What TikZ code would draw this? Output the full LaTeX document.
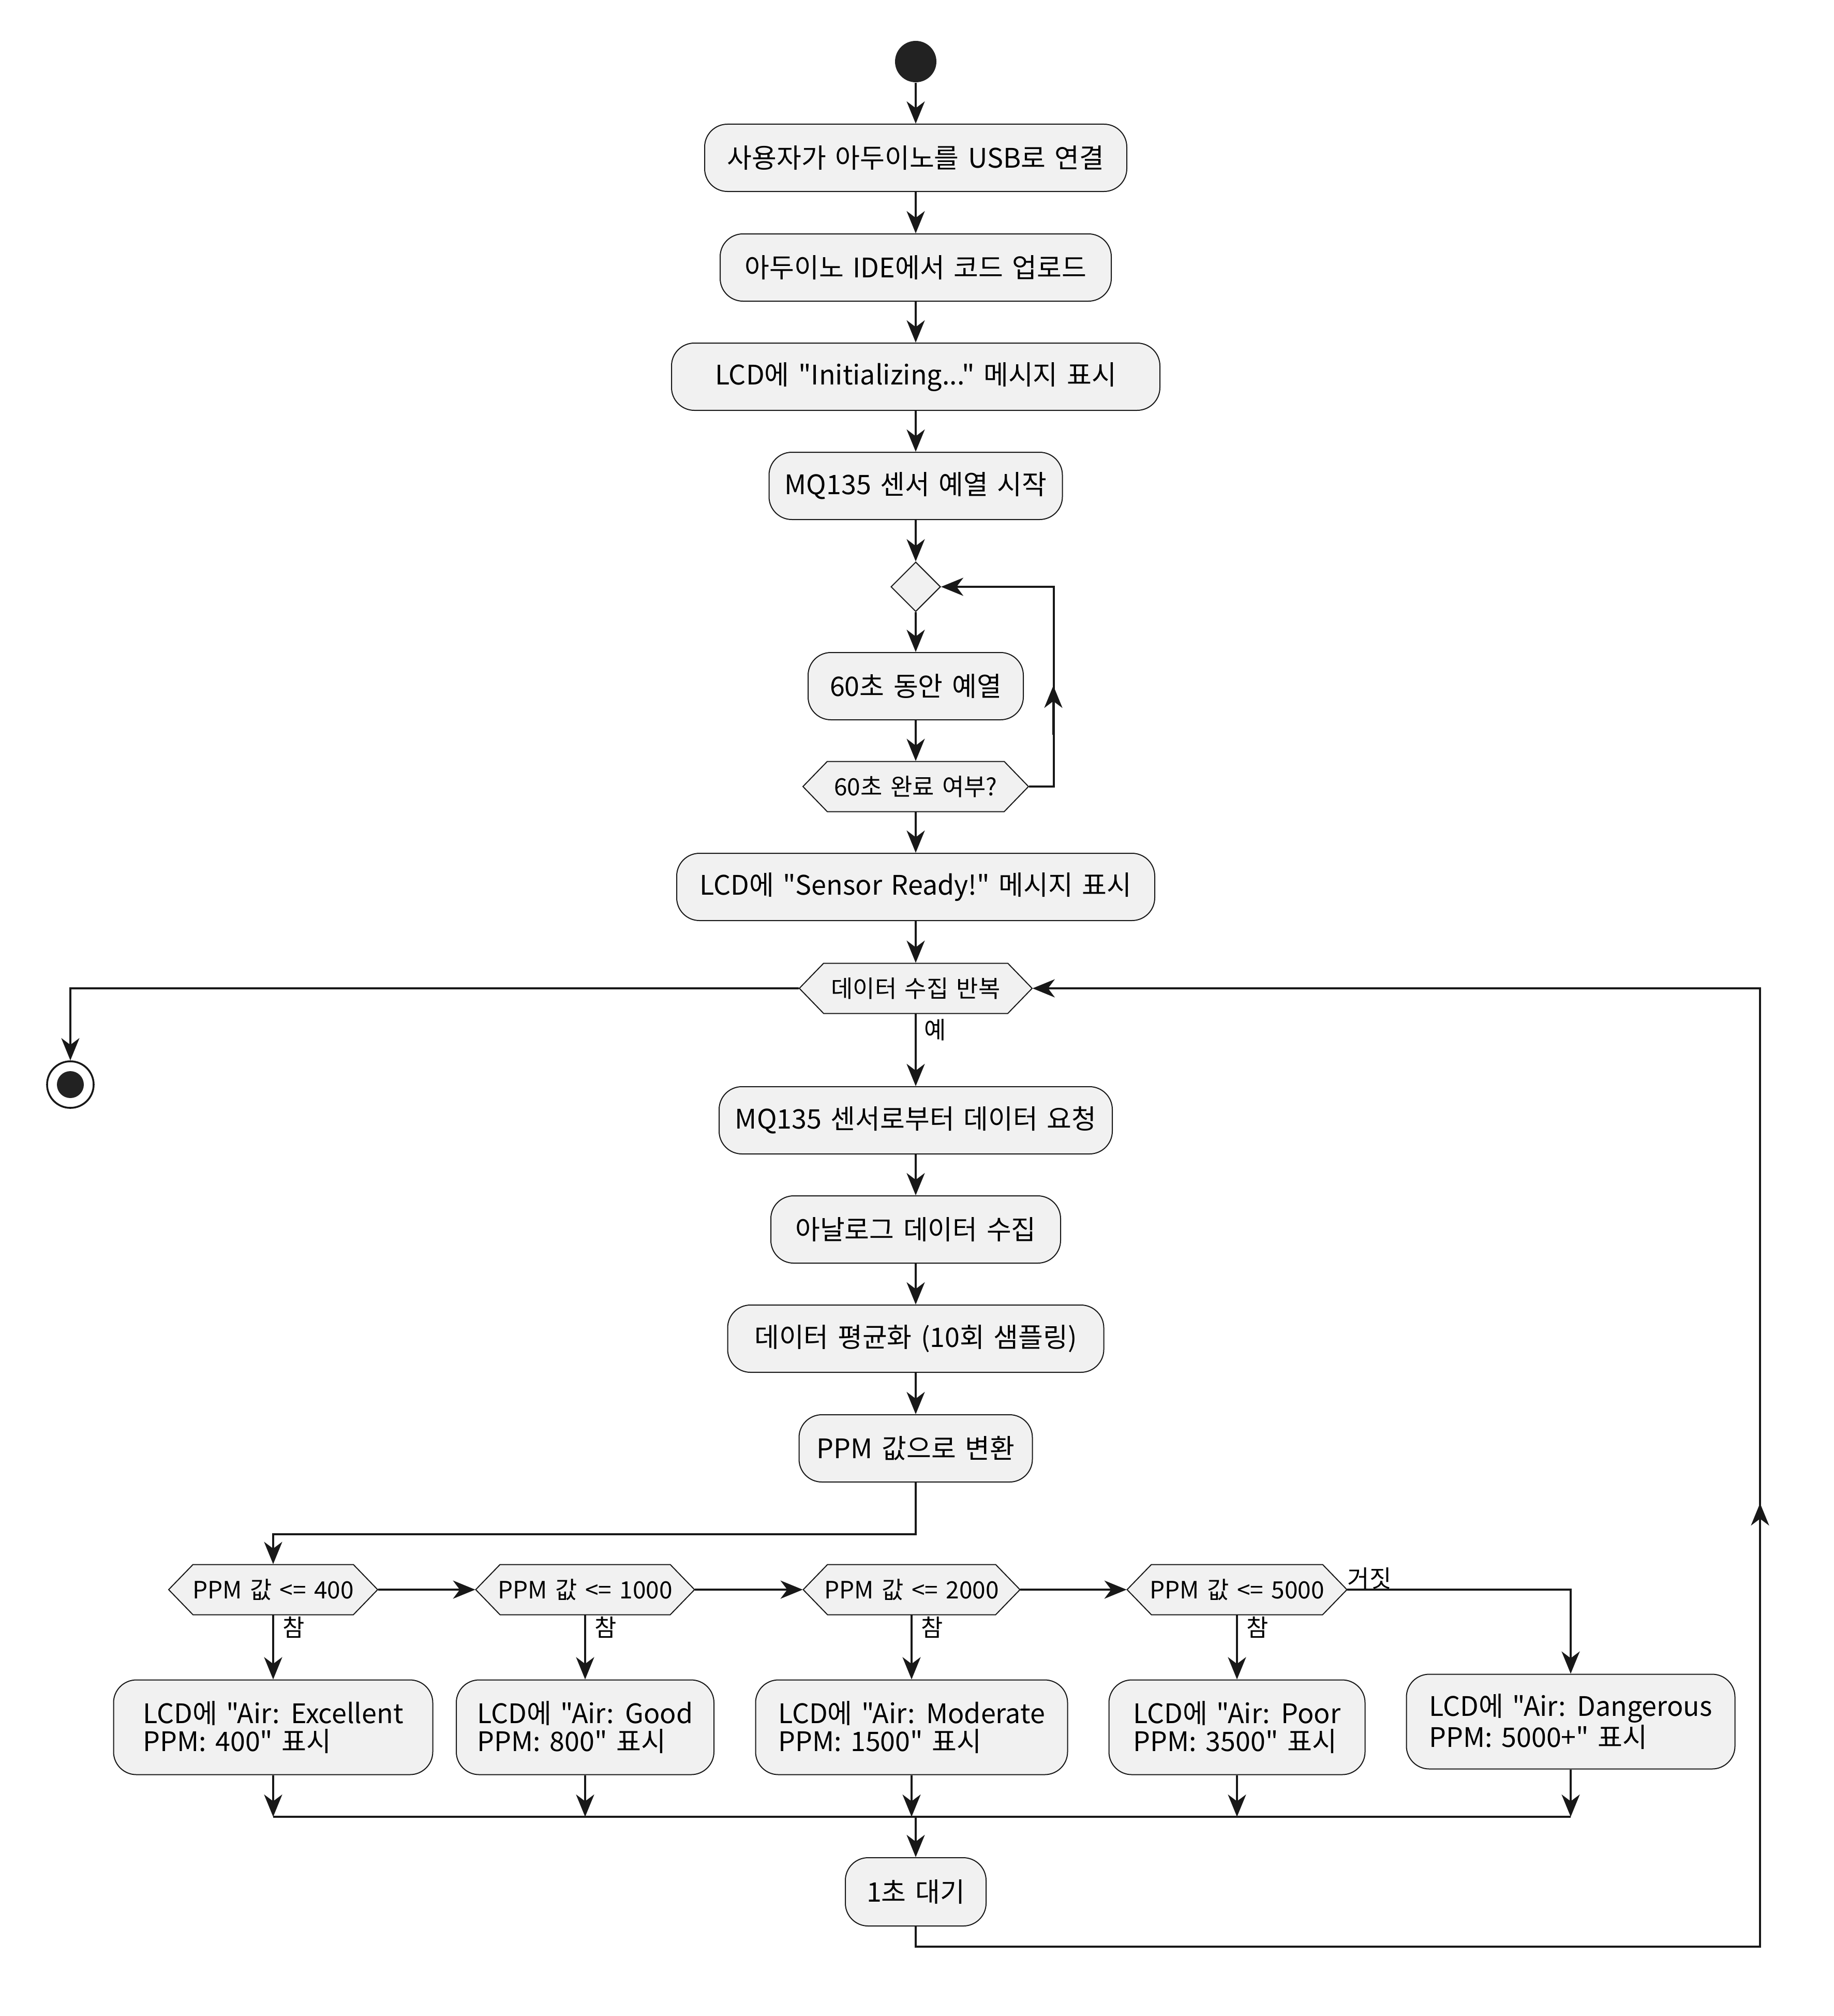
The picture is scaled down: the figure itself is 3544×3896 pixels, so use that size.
\documentclass[tikz,border=0pt]{standalone}
\usepackage{fontspec}
\setmainfont{Noto Sans CJK KR}[Ligatures=TeXOff,WordSpace=1.5]
\usetikzlibrary{arrows.meta,shapes.geometric}
\definecolor{boxfill}{HTML}{F1F1F1}
\definecolor{ink}{HTML}{181818}
\definecolor{dotc}{HTML}{222222}
% name, cx, cy, width px, width pt, text
\newcommand\hexbox[6]{%
  \draw[hexline] ({#2-#4/2},#3) -- ({#2-#4/2+47},{#3-48.5}) -- ({#2+#4/2-47},{#3-48.5}) -- ({#2+#4/2},#3) -- ({#2+#4/2-47},{#3+48.5}) -- ({#2-#4/2+47},{#3+48.5}) -- cycle;
  \node[hextxt, minimum width=#5] (#1) at (#2,#3) {#6};
}
\begin{document}
\begin{tikzpicture}[x=0.25pt,y=-0.25pt,
  act/.style={draw=ink, fill=boxfill, line width=0.5pt, rounded corners=11pt, minimum height=32.5pt, inner sep=0pt, font=\fontsize{13}{13.5}\selectfont, align=center},
  act2/.style={act, minimum height=45.75pt, align=left},
  hextxt/.style={inner sep=0pt, minimum height=24.25pt, font=\fontsize{11.5}{13}\selectfont},
  hexline/.style={draw=ink, fill=boxfill, line width=0.5pt},
  conn/.style={draw=ink, line width=1pt},
  arr/.style={conn, -{Stealth[length=10.75pt,width=8.75pt,inset=3.25pt]}},
  lbl/.style={font=\fontsize{11.5}{13}\selectfont, inner sep=0pt},
]
\useasboundingbox (0,0) rectangle (3544,3896);

\node[circle, fill=dotc, minimum size=20pt, inner sep=0pt] (start) at (1770,119) {};
\node[act, minimum width=204pt] (b1) at (1770,305) {사용자가 아두이노를 USB로 연결};
\node[act, minimum width=189pt] (b2) at (1770,517) {아두이노 IDE에서 코드 업로드};
\node[act, minimum width=236pt] (b3) at (1770,728) {LCD에 "Initializing..." 메시지 표시};
\node[act, minimum width=141.75pt] (b4) at (1770,939) {MQ135 센서 예열 시작};
\node[diamond, draw=ink, fill=boxfill, line width=0.5pt, minimum width=24pt, minimum height=24pt, inner sep=0pt] (dia) at (1770,1134) {};
\node[act, minimum width=104pt] (b5) at (1770,1326) {60초 동안 예열};
\hexbox{h1}{1770}{1520}{436}{109pt}{60초 완료 여부?}
\node[act, minimum width=231pt] (b6) at (1770,1714) {LCD에 "Sensor Ready!" 메시지 표시};
\hexbox{h2}{1770}{1910}{450}{112.5pt}{데이터 수집 반복}
\node[circle, draw=ink, line width=0.9pt, fill=white, minimum size=22.5pt, inner sep=0pt] (end) at (136,2096) {};
\node[circle, fill=dotc, minimum size=13pt, inner sep=0pt] (endin) at (136,2096) {};
\node[act, minimum width=190pt] (b7) at (1770,2165) {MQ135 센서로부터 데이터 요청};
\node[act, minimum width=140pt] (b8) at (1770,2376) {아날로그 데이터 수집};
\node[act, minimum width=181.75pt] (b9) at (1770,2587) {데이터 평균화 (10회 샘플링)};
\node[act, minimum width=112.75pt] (b10) at (1770,2799) {PPM 값으로 변환};

\hexbox{p1}{528}{3072}{404}{101pt}{PPM 값 <= 400}
\hexbox{p2}{1131}{3072}{423}{105.75pt}{PPM 값 <= 1000}
\hexbox{p3}{1762}{3072}{419}{104.75pt}{PPM 값 <= 2000}
\hexbox{p4}{2391}{3072}{425}{106.25pt}{PPM 값 <= 5000}

\node[act2, minimum width=154.25pt] (B1) at (528,3338) {LCD에 "Air: Excellent\\PPM: 400" 표시};
\node[act2, minimum width=124.5pt] (B2) at (1131,3338) {LCD에 "Air: Good\\PPM: 800" 표시};
\node[act2, minimum width=150.75pt] (B3) at (1762,3338) {LCD에 "Air: Moderate\\PPM: 1500" 표시};
\node[act2, minimum width=123.75pt] (B4) at (2391,3338) {LCD에 "Air: Poor\\PPM: 3500" 표시};
\node[act2, minimum width=158.75pt] (B5) at (3036,3327) {LCD에 "Air: Dangerous\\PPM: 5000+" 표시};
\node[act, minimum width=68pt, minimum height=33pt] (wait) at (1770,3656) {1초 대기};

% connectors
\draw[arr] (start) -- (b1);
\draw[arr] (b1) -- (b2);
\draw[arr] (b2) -- (b3);
\draw[arr] (b3) -- (b4);
\draw[arr] (b4) -- (dia);
\draw[arr] (dia) -- (b5);
\draw[arr] (b5) -- (h1);
\draw[arr] (h1) -- (b6);
\draw[arr] (h1.east) -- ++(48,0) |- (dia.east);
\coordinate (m1a) at (2036,1420);
\coordinate (m1b) at (2036,1325);
\draw[arr] (m1a) -- (m1b);
\draw[arr] (b6) -- (h2);
\draw[arr] (h2.west) -| (end);
\draw[arr] (h2) -- (b7);
\node[lbl, anchor=west] (yes) at (1786,1990) {예};
\draw[arr] (b7) -- (b8);
\draw[arr] (b8) -- (b9);
\draw[arr] (b9) -- (b10);
\coordinate (split) at (1770,2965);
\draw[arr] (b10) -- (split) -| (p1);
\draw[arr] (p1) -- (p2);
\draw[arr] (p2) -- (p3);
\draw[arr] (p3) -- (p4);
\draw[arr] (p1) -- (B1);
\draw[arr] (p2) -- (B2);
\draw[arr] (p3) -- (B3);
\draw[arr] (p4) -- (B4);
\draw[arr] (p4.east) -| (B5);
\node[lbl, anchor=west] (t1) at (546,3145) {참};
\node[lbl, anchor=west] (t2) at (1149,3145) {참};
\node[lbl, anchor=west] (t3) at (1780,3145) {참};
\node[lbl, anchor=west] (t4) at (2409,3145) {참};
\node[lbl] (f4) at (2647,3050) {거짓};
\coordinate (j1) at (528,3511);
\coordinate (j2) at (1131,3511);
\coordinate (j3) at (1762,3511);
\coordinate (j4) at (2391,3511);
\coordinate (j5) at (3036,3511);
\coordinate (jm) at (1770,3511);
\draw[arr] (B1) -- (j1);
\draw[arr] (B2) -- (j2);
\draw[arr] (B3) -- (j3);
\draw[arr] (B4) -- (j4);
\draw[arr] (B5) -- (j5);
\draw[conn] (j1) -- (j5);
\draw[arr] (jm) -- (wait);
\coordinate (r1) at (3402,3762);
\draw[arr] (wait) |- (r1) |- (h2.east);
\coordinate (m2a) at (3402,3000);
\coordinate (m2b) at (3402,2905);
\draw[arr] (m2a) -- (m2b);
\end{tikzpicture}
\end{document}
